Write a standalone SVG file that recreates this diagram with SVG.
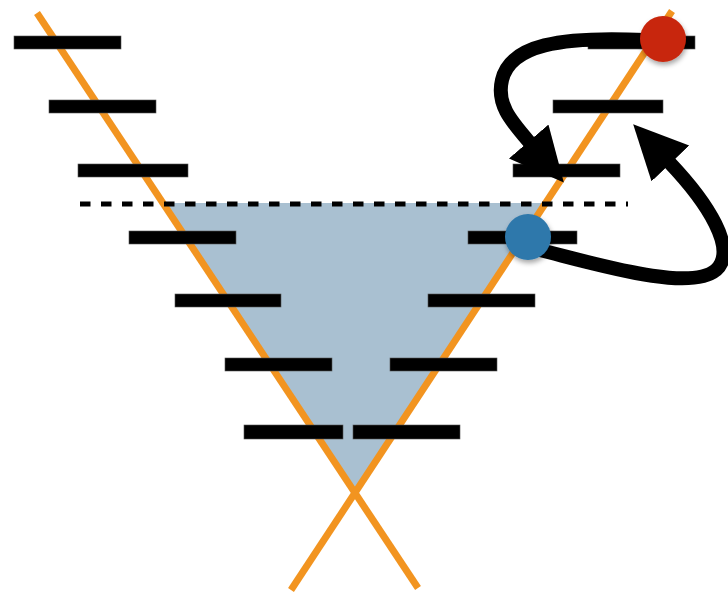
<svg xmlns="http://www.w3.org/2000/svg" width="728" height="593" viewBox="0 0 728 593">
<style>
.bar{fill:#000;stroke:#555;stroke-width:0.6}
.orange{stroke:#f29420;stroke-width:7;fill:none}
.arrow{stroke:#000;stroke-width:14;fill:none}
</style>
<defs>
<marker id="head" markerUnits="userSpaceOnUse" markerWidth="60" markerHeight="60" refX="2" refY="26" orient="auto" viewBox="0 0 60 60">
<path d="M0,0 L54,26 L0,52 Z" fill="#000"/>
</marker>
<filter id="shadow" x="-50%" y="-50%" width="200%" height="200%">
<feDropShadow dx="1" dy="3" stdDeviation="2.5" flood-color="#000" flood-opacity="0.35"/>
</filter>
</defs>
<rect width="728" height="593" fill="#fff"/>
<g id="region">
<polygon points="163,203 546,203 355,493" fill="#a9c0d1"/>
</g>
<g id="axes">
<line class="orange" x1="37" y1="13" x2="418" y2="588"/>
<line class="orange" x1="672" y1="11" x2="291" y2="590"/>
</g>
<g id="threshold">
<line x1="80" y1="204" x2="628" y2="204" stroke="#000" stroke-width="5" stroke-dasharray="10.5 10.5"/>
</g>
<g id="levels-left">
<rect class="bar" x="14" y="36" width="107" height="13"/>
<rect class="bar" x="49" y="100" width="107" height="13"/>
<rect class="bar" x="78" y="164" width="110" height="13"/>
<rect class="bar" x="129" y="231" width="107" height="13"/>
<rect class="bar" x="175" y="294" width="106" height="13"/>
<rect class="bar" x="225" y="358" width="107" height="13"/>
<rect class="bar" x="244" y="425" width="99" height="14"/>
</g>
<g id="levels-right">
<rect class="bar" x="353" y="425" width="107" height="14"/>
<rect class="bar" x="390" y="358" width="107" height="13"/>
<rect class="bar" x="428" y="294" width="107" height="13"/>
<rect class="bar" x="468" y="231" width="109" height="13"/>
<rect class="bar" x="513" y="164" width="107" height="13"/>
<rect class="bar" x="553" y="100" width="110" height="13"/>
<rect class="bar" x="588" y="36" width="107" height="13"/>
</g>
<g id="connectors">
<path class="arrow" d="M645,40 C560,36 510,45 502,80 C496,105 512,122 530,143" marker-end="url(#head)"/>
<path class="arrow" d="M540,250 C600,265 690,292 716,270 C738,250 708,203 669,162" marker-end="url(#head)"/>
</g>
<g id="blue-dot">
<circle cx="528" cy="237" r="23" fill="#2e78ab" filter="url(#shadow)"/>
</g>
<g id="red-dot">
<circle cx="663" cy="39" r="23" fill="#c8260a" filter="url(#shadow)"/>
</g>
</svg>
